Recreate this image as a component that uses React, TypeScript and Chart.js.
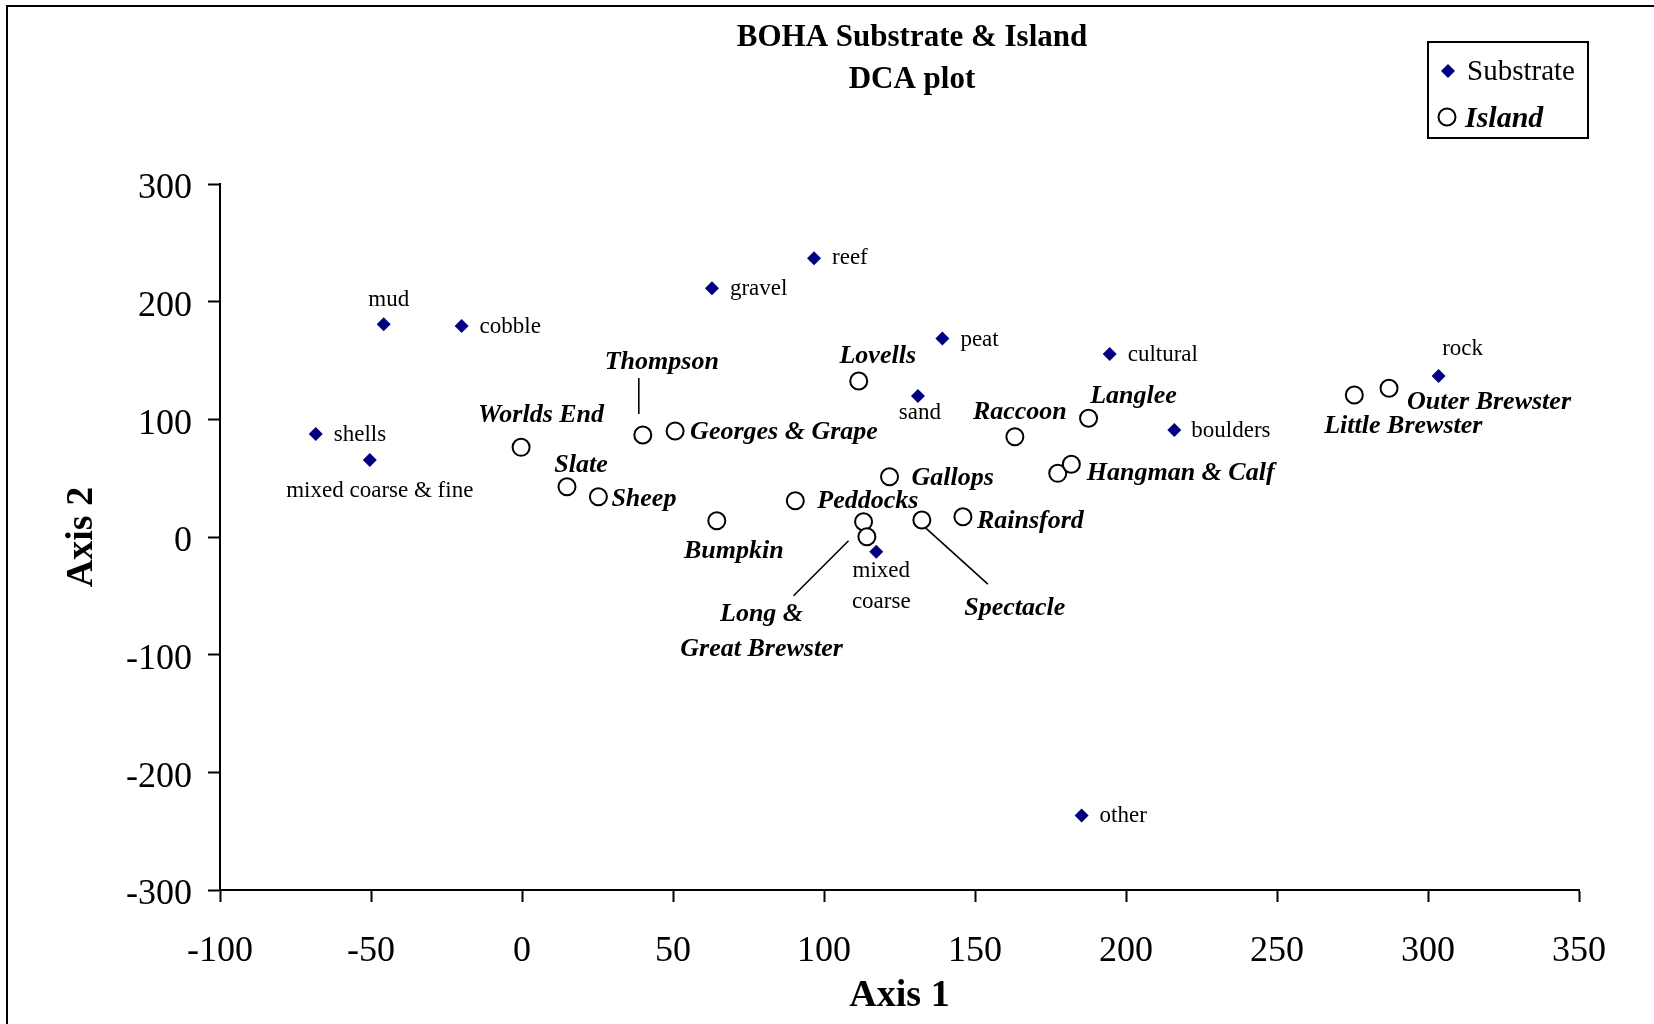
import React, { useEffect, useRef } from "react";
import { Chart, registerables } from "chart.js";

Chart.register(...registerables);

// ---- Data ----
const substrateLabels = [
  "mud", "cobble", "shells", "mixed coarse & fine", "gravel", "reef", "peat",
  "sand", "cultural", "boulders", "rock", "mixed|coarse", "other",
];
const substrateAxis1 = [-45.8, -20.0, -68.3, -50.4, 62.9, 96.7, 139.2, 131.1, 194.6, 216.0, 303.5, 117.3, 185.3];
const substrateAxis2 = [180.8, 179.3, 87.5, 65.4, 211.3, 236.8, 168.8, 119.8, 155.5, 90.9, 136.8, -12.5, -236.6];

const islandLabels = [
  "Worlds End", "Slate", "Sheep", "Thompson", "Georges & Grape", "Bumpkin", "Peddocks",
  "Lovells", "Long &|Great Brewster", "", "Gallops", "Spectacle", "Rainsford", "Raccoon",
  "Langlee", "Hangman & Calf", "", "Little Brewster", "Outer Brewster",
];
const islandAxis1 = [-0.3, 14.9, 25.3, 40.0, 50.7, 64.5, 90.5, 111.5, 113.1, 114.2, 121.7, 132.4, 146.0, 163.2, 187.6, 177.4, 181.9, 275.6, 287.1];
const islandAxis2 = [76.2, 42.7, 34.2, 86.7, 90.1, 13.8, 30.8, 132.6, 13.0, 0.2, 51.2, 14.4, 17.2, 85.2, 100.9, 54.1, 61.8, 120.7, 126.4];

const xTickMin = -100;
const xTickMax = 350;
const xTickStep = 50;
const yTickMin = -300;
const yTickMax = 300;
const yTickStep = 100;

const titleLines = ["BOHA Substrate & Island", "DCA plot"];
const xTitle = "Axis 1";
const yTitle = "Axis 2";
const legendNames = ["Substrate", "Island"];

// ---- Label placement (pixel offsets from the point, styling only) ----
type Place = { dx: number; dy: number; align: CanvasTextAlign; gap?: number; leader?: number[] };
const substratePlace: Place[] = [
  { dx: 5, dy: -24, align: "center" },
  { dx: 18, dy: 1, align: "left" },
  { dx: 18, dy: 1, align: "left" },
  { dx: 10, dy: 31, align: "center" },
  { dx: 18, dy: 1, align: "left" },
  { dx: 18, dy: 0, align: "left" },
  { dx: 18, dy: 2, align: "left" },
  { dx: 2, dy: 17, align: "center" },
  { dx: 18, dy: 1, align: "left" },
  { dx: 17, dy: 1, align: "left" },
  { dx: 24, dy: -27, align: "center" },
  { dx: 5, dy: 19, align: "center", gap: 31 },
  { dx: 18, dy: 1, align: "left" },
];
const islandPlace: Place[] = [
  { dx: 20, dy: -32, align: "center" },
  { dx: 14, dy: -21, align: "center" },
  { dx: 13, dy: 3, align: "left" },
  { dx: 19, dy: -73, align: "center", leader: [-4, -57, -4, -21] },
  { dx: 15, dy: 1, align: "left" },
  { dx: 17, dy: 31, align: "center" },
  { dx: 22, dy: 1, align: "left" },
  { dx: 19, dy: -25, align: "center" },
  { dx: -102, dy: 93, align: "center", gap: 35, leader: [-15, 19, -70, 74] },
  { dx: 0, dy: 0, align: "center" },
  { dx: 22, dy: 2, align: "left" },
  { dx: 93, dy: 88, align: "center", leader: [4, 8, 66, 64] },
  { dx: 14, dy: 5, align: "left" },
  { dx: 5, dy: -24, align: "center" },
  { dx: 45, dy: -22, align: "center" },
  { dx: 29, dy: 0, align: "left" },
  { dx: 0, dy: 0, align: "center" },
  { dx: 49, dy: 31, align: "center" },
  { dx: 18, dy: 14, align: "left" },
];

const SERIF = "'Liberation Serif', 'Times New Roman', serif";
const NAVY = "#000080";

const decorPlugin = {
  id: "decor",
  beforeDraw(chart: any) {
    const ctx = chart.ctx;
    ctx.save();
    ctx.fillStyle = "#ffffff";
    ctx.fillRect(0, 0, chart.width, chart.height);
    ctx.fillStyle = "#000000";
    ctx.fillRect(6, 5, chart.width - 6, 2);
    ctx.fillRect(6, 5, 2, chart.height - 5);
    ctx.restore();
  },
  afterDraw(chart: any) {
    const ctx = chart.ctx;
    ctx.save();
    // title
    ctx.fillStyle = "#000";
    ctx.textAlign = "center";
    ctx.textBaseline = "alphabetic";
    ctx.font = `bold 31px ${SERIF}`;
    ctx.fillText(titleLines[0], 912, 46);
    ctx.fillText(titleLines[1], 912, 88);
    // legend box
    ctx.lineWidth = 2;
    ctx.strokeStyle = "#000";
    ctx.strokeRect(1428, 42, 160, 96);
    // diamond
    ctx.fillStyle = NAVY;
    ctx.beginPath();
    ctx.moveTo(1448, 64);
    ctx.lineTo(1455, 71);
    ctx.lineTo(1448, 78);
    ctx.lineTo(1441, 71);
    ctx.closePath();
    ctx.fill();
    // circle
    ctx.beginPath();
    ctx.arc(1447, 117, 8.5, 0, Math.PI * 2);
    ctx.fillStyle = "#fff";
    ctx.fill();
    ctx.lineWidth = 2;
    ctx.strokeStyle = "#000";
    ctx.stroke();
    ctx.fillStyle = "#000";
    ctx.textAlign = "left";
    ctx.font = `29px ${SERIF}`;
    ctx.fillText(legendNames[0], 1467, 80);
    ctx.font = `italic bold 30px ${SERIF}`;
    ctx.fillText(legendNames[1], 1465, 127);
    ctx.restore();
  },
  afterDatasetsDraw(chart: any) {
    const ctx = chart.ctx;
    ctx.save();
    ctx.fillStyle = "#000";
    ctx.strokeStyle = "#000";
    ctx.textBaseline = "middle";
    const groups = [
      { meta: chart.getDatasetMeta(0), labels: substrateLabels, place: substratePlace, font: `23px ${SERIF}` },
      { meta: chart.getDatasetMeta(1), labels: islandLabels, place: islandPlace, font: `italic bold 26px ${SERIF}` },
    ];
    for (const g of groups) {
      ctx.font = g.font;
      g.meta.data.forEach((el: any, i: number) => {
        const text = g.labels[i];
        if (!text) return;
        const p = g.place[i];
        const lines = text.split("|");
        ctx.textAlign = p.align;
        lines.forEach((ln: string, k: number) => {
          ctx.fillText(ln, el.x + p.dx, el.y + p.dy + k * (p.gap || 0));
        });
        if (p.leader) {
          ctx.lineWidth = 1.6;
          ctx.beginPath();
          ctx.moveTo(el.x + p.leader[0], el.y + p.leader[1]);
          ctx.lineTo(el.x + p.leader[2], el.y + p.leader[3]);
          ctx.stroke();
        }
      });
    }
    ctx.restore();
  },
};

export default function App() {
  const ref = useRef<HTMLCanvasElement | null>(null);
  useEffect(() => {
    if (!ref.current) return;
    const chart = new Chart(ref.current, {
      type: "scatter",
      data: {
        datasets: [
          {
            label: legendNames[0],
            data: substrateAxis1.map((x, i) => ({ x, y: substrateAxis2[i] })),
            pointStyle: "rectRot",
            pointRadius: 7,
            backgroundColor: NAVY,
            borderColor: NAVY,
            borderWidth: 0,
          },
          {
            label: legendNames[1],
            data: islandAxis1.map((x, i) => ({ x, y: islandAxis2[i] })),
            pointStyle: "circle",
            pointRadius: 8.5,
            backgroundColor: "#ffffff",
            borderColor: "#000000",
            borderWidth: 2,
          },
        ],
      },
      options: {
        animation: false,
        responsive: false,
        devicePixelRatio: 1,
        events: [],
        layout: { padding: { top: 184, right: 75, bottom: 0, left: 0 } },
        plugins: { legend: { display: false }, title: { display: false }, tooltip: { enabled: false } },
        scales: {
          x: {
            type: "linear",
            min: xTickMin,
            max: xTickMax,
            afterFit: (s: any) => { s.height = 134; },
            ticks: {
              stepSize: xTickStep,
              color: "#000",
              padding: 28,
              font: { family: SERIF, size: 36 },
              callback: (v: any) => String(v),
            },
            grid: { drawOnChartArea: false, drawTicks: true, tickLength: 12, tickWidth: 2, tickColor: "#000" },
            border: { display: true, color: "#000", width: 2 },
            title: { display: true, text: xTitle, color: "#000", font: { family: SERIF, size: 38, weight: "bold" }, padding: { top: 0, bottom: 5 } },
          },
          y: {
            type: "linear",
            min: yTickMin,
            max: yTickMax,
            afterFit: (s: any) => { s.width = 220; },
            ticks: {
              stepSize: yTickStep,
              color: "#000",
              padding: 16,
              labelOffset: 5,
              font: { family: SERIF, size: 36 },
              callback: (v: any) => String(v),
            },
            grid: { drawOnChartArea: false, drawTicks: true, tickLength: 12, tickWidth: 2, tickColor: "#000" },
            border: { display: true, color: "#000", width: 2 },
            title: { display: true, text: yTitle, color: "#000", font: { family: SERIF, size: 38, weight: "bold" }, padding: { top: 59, bottom: 0 } },
          },
        },
      },
      plugins: [decorPlugin],
    } as any);
    return () => chart.destroy();
  }, []);
  return (
    <div style={{ position: "fixed", left: 0, top: 0, width: 1654, height: 1024 }}>
      <canvas ref={ref} width={1654} height={1024} style={{ width: 1654, height: 1024, display: "block" }} />
    </div>
  );
}
